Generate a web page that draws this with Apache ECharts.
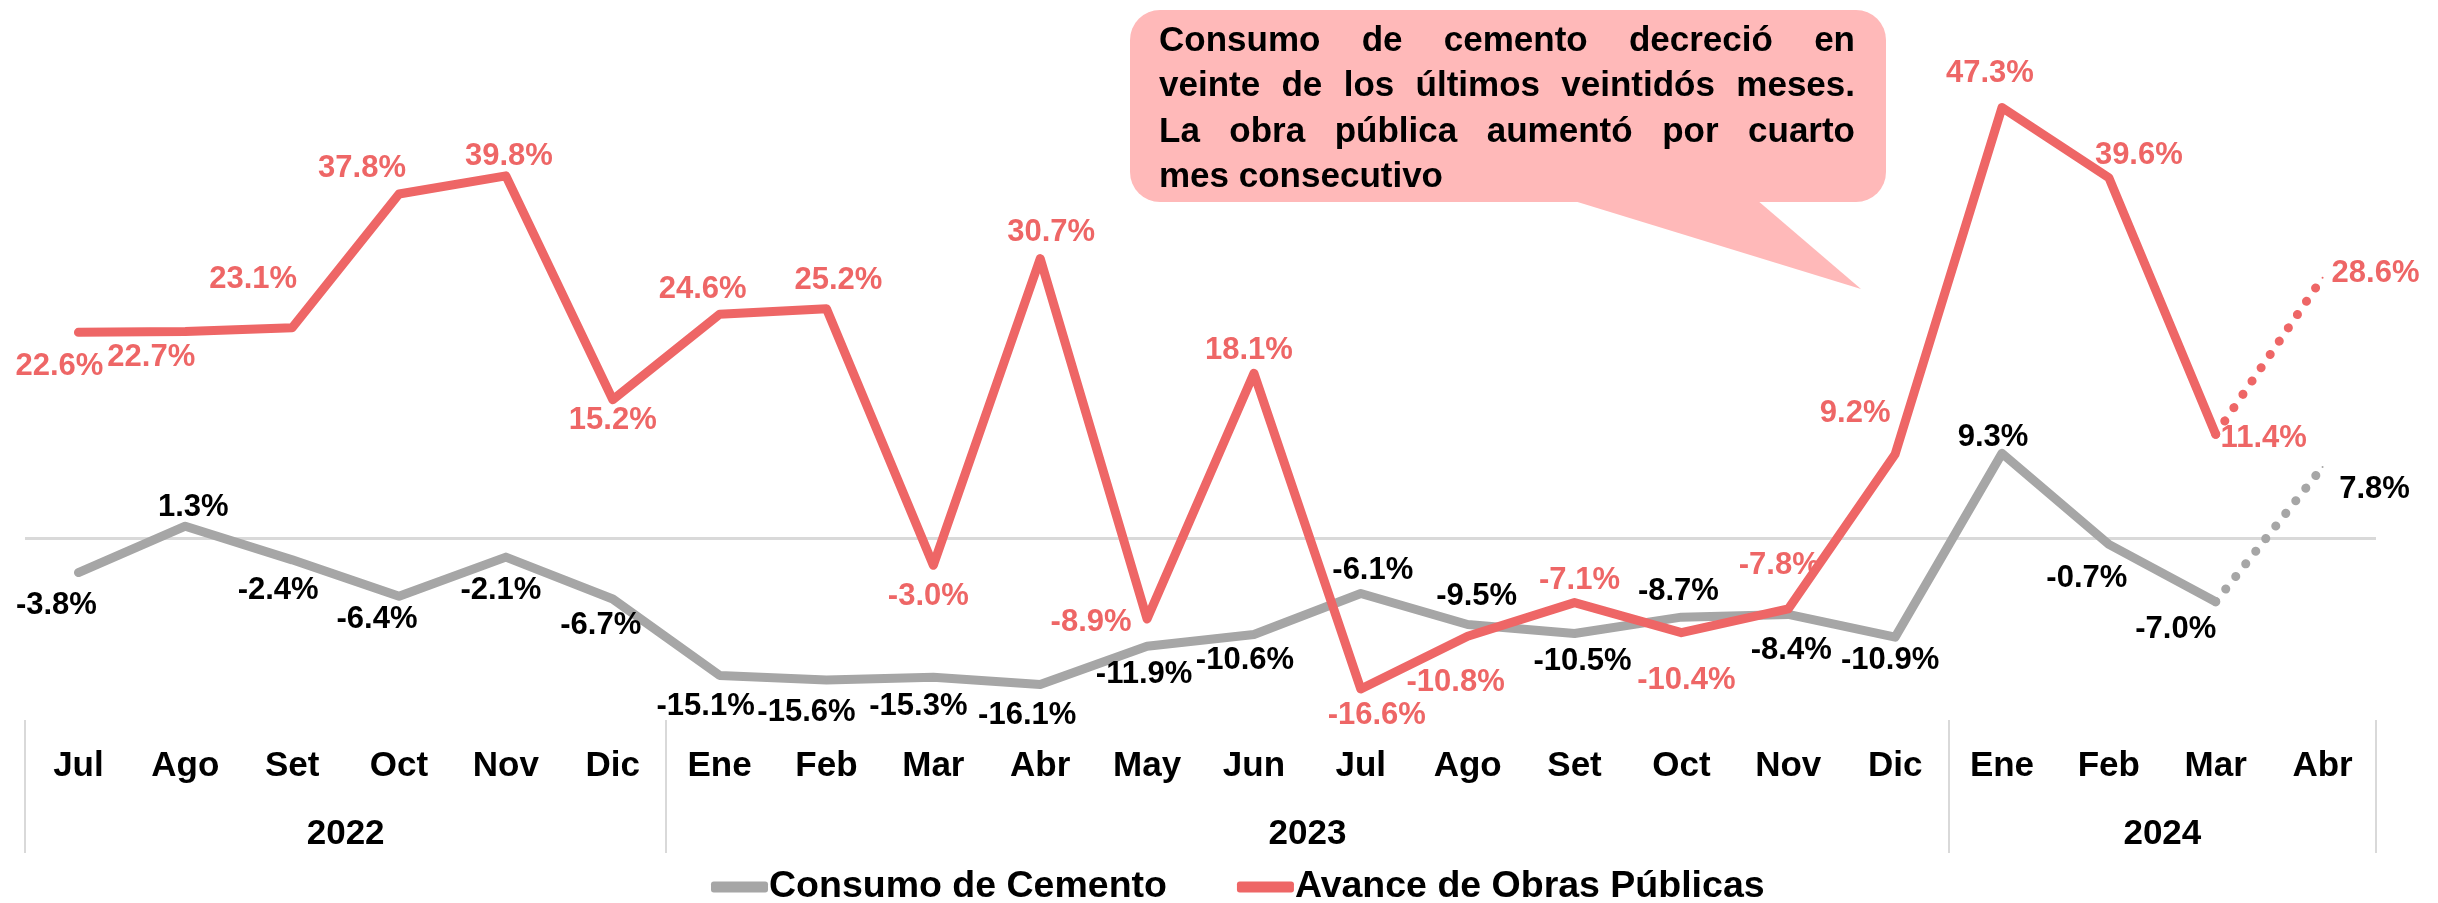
<!DOCTYPE html>
<html>
<head>
<meta charset="utf-8">
<script src="https://cdn.jsdelivr.net/npm/echarts@6/dist/echarts.min.js"></script>
<style>
html,body{margin:0;padding:0;background:#fff;}
#chart{width:2438px;height:903px;}
</style>
</head>
<body>
<div id="chart"></div>
<script>
// ---------- DATA ----------
const months = ['Jul','Ago','Set','Oct','Nov','Dic','Ene','Feb','Mar','Abr','May','Jun','Jul','Ago','Set','Oct','Nov','Dic','Ene','Feb','Mar','Abr'];
const years = ['2022','2023','2024'];
const yearSizes = [6, 12, 4];
const cemento = [-3.8, 1.3, -2.4, -6.4, -2.1, -6.7, -15.1, -15.6, -15.3, -16.1, -11.9, -10.6, -6.1, -9.5, -10.5, -8.7, -8.4, -10.9, 9.3, -0.7, -7.0, 7.8];
const obras = [22.6, 22.7, 23.1, 37.8, 39.8, 15.2, 24.6, 25.2, -3.0, 30.7, -8.9, 18.1, -16.6, -10.8, -7.1, -10.4, -7.8, 9.2, 47.3, 39.6, 11.4, 28.6];
const seriesNames = ['Consumo de Cemento', 'Avance de Obras Públicas'];
const calloutLines = ['Consumo de cemento decreció en', 'veinte de los últimos veintidós meses.', 'La obra pública aumentó por cuarto', 'mes consecutivo'];
const projectedFrom = 20; // last real month; the segment after it is drawn dotted

// ---------- LABEL PLACEMENT (offsets from point, px) ----------
const grayOffsets = [[-22,33],[8,-19],[-14,31],[-22,23],[-5,33],[-12,26],[-14,31],[-20,32],[-15,29],[-13,31],[-3,28],[-9,26],[12,-23],[9,-28],[8,28],[-3,-26],[3,36],[-5,23],[-9,-16],[-22,34],[-40,28],[52,22]];
const redOffsets = [[-19,34],[-34,26],[-39,-48],[-37,-26],[3,-19],[0,21],[-17,-25],[12,-28],[-5,31],[11,-26],[-56,3],[-5,-23],[16,26],[-12,46],[5,-22],[5,48],[-9,-44],[-40,-41],[-12,-34],[30,-22],[48,4],[53,-4]];

// ---------- STYLE ----------
const FONT = '"Liberation Sans", Arial, Helvetica, sans-serif';
const GRAY = '#A6A6A6';
const RED = '#EE6666';
const GRID_L = 25, GRID_R = 62;

const chart = echarts.init(document.getElementById('chart'), null, {renderer: 'canvas'});

function pts(values, offsets, color, from, to) {
  return values.map((v, i) => {
    if (i < from || i > to) return null;
    return {value: v, label: {offset: offsets[i], color: color}};
  });
}
function labelFmt(p) { return p.value.toFixed(1) + '%'; }

// year axis slots (label sits on the category left of each group's centre, shifted half a band)
const yearSlots = new Array(months.length).fill('');
let start = 0;
years.forEach((y, k) => {
  const idx = start + Math.floor((yearSizes[k] - 1) / 2);
  yearSlots[idx] = y;
  start += yearSizes[k];
});
const groupStarts = [];
start = 0;
yearSizes.forEach(s => { groupStarts.push(start); start += s; });

function makeSeries(name, values, offsets, color, labelColor, dotted, z) {
  const base = {
    name: name,
    type: 'line',
    xAxisIndex: 0, yAxisIndex: 0,
    symbol: 'circle', symbolSize: 2,
    showSymbol: true,
    itemStyle: {color: color},
    z: z,
    silent: true,
    animation: false,
    label: {
      show: true, position: 'inside', formatter: labelFmt,
      fontFamily: FONT, fontSize: 31, fontWeight: 'bold', color: labelColor
    },
    emphasis: {disabled: true}
  };
  if (!dotted) {
    return Object.assign(base, {
      data: pts(values, offsets, labelColor, 0, projectedFrom),
      lineStyle: {color: color, width: 9, cap: 'round', join: 'round'}
    });
  }
  const d = pts(values, offsets, labelColor, projectedFrom, values.length - 1);
  d[projectedFrom] = {value: values[projectedFrom], label: {show: false}};
  return Object.assign(base, {
    data: d,
    connectNulls: false,
    lineStyle: {color: color, width: 9, type: [0.1, 16], cap: 'round'}
  });
}

const grayMain = makeSeries(seriesNames[0], cemento, grayOffsets, GRAY, '#000000', false, 3);
grayMain.markLine = {
  silent: true, symbol: 'none', animation: false,
  label: {show: false},
  lineStyle: {color: '#D9D9D9', width: 3, type: 'solid'},
  emphasis: {disabled: true},
  data: [{yAxis: 0}],
  z: 1
};

const option = {
  backgroundColor: '#ffffff',
  animation: false,
  textStyle: {fontFamily: FONT},
  grid: [
    {left: GRID_L, right: GRID_R, top: 83, height: 637},
    {left: GRID_L, right: GRID_R, top: 720, height: 133}
  ],
  xAxis: [
    {
      type: 'category', gridIndex: 0, data: months, boundaryGap: true,
      axisLine: {show: false}, axisTick: {show: false}, splitLine: {show: false},
      axisLabel: {interval: 0, margin: 29, fontFamily: FONT, fontSize: 35, fontWeight: 'bold', color: '#000'}
    },
    {
      type: 'category', gridIndex: 0, data: yearSlots, boundaryGap: true, position: 'bottom',
      axisLine: {show: false}, axisTick: {show: false}, splitLine: {show: false},
      axisLabel: {
        interval: 0, margin: 97, color: '#000',
        formatter: v => v ? '{y|' + v + '}' : '',
        rich: {y: {fontFamily: FONT, fontSize: 35, fontWeight: 'bold', color: '#000', padding: [0, 0, 0, 107]}}
      }
    },
    {
      type: 'category', gridIndex: 1, data: months, boundaryGap: true,
      axisLine: {show: false}, axisTick: {show: false}, axisLabel: {show: false},
      splitLine: {show: true, interval: (i) => groupStarts.indexOf(i) >= 0, lineStyle: {color: '#D9D9D9', width: 2}}
    }
  ],
  yAxis: [
    {type: 'value', gridIndex: 0, min: -20, max: 50, interval: 10, show: false, splitLine: {show: false}},
    {type: 'value', gridIndex: 1, show: false, splitLine: {show: false}}
  ],
  legend: {
    left: 711, top: 868, padding: 0,
    icon: 'roundRect', itemWidth: 57, itemHeight: 11, itemGap: 70,
    textStyle: {fontFamily: FONT, fontSize: 37.5, fontWeight: 'bold', color: '#000', padding: [0, 0, 0, -4]},
    selectedMode: false,
    data: [
      {name: seriesNames[0], itemStyle: {color: GRAY}},
      {name: seriesNames[1], itemStyle: {color: RED}}
    ]
  },
  series: [
    grayMain,
    makeSeries(seriesNames[0], cemento, grayOffsets, GRAY, '#000000', true, 3),
    makeSeries(seriesNames[1], obras, redOffsets, RED, RED, false, 4),
    makeSeries(seriesNames[1], obras, redOffsets, RED, RED, true, 4)
  ],
  graphic: []
};

// ---------- CALLOUT (justified text) ----------
(function buildCallout() {
  const boxX = 1130, boxY = 10, boxW = 756, boxH = 192;
  const textX = 1159, textW = 696, firstLineY = 41, lineGap = 45.5;
  const fontSize = 35;
  const fontStr = 'bold ' + fontSize + 'px ' + FONT;
  const els = [
    {type: 'polygon', silent: true, z: 10, shape: {points: [[1571, boxY + boxH - 2], [1757, boxY + boxH - 2], [1861, 289]]}, style: {fill: '#FFB9B9'}},
    {type: 'rect', silent: true, z: 10, shape: {x: boxX, y: boxY, width: boxW, height: boxH, r: 30}, style: {fill: '#FFB9B9'}}
  ];
  const ctx = document.createElement('canvas').getContext('2d');
  ctx.font = fontStr;
  const spaceW = ctx.measureText(' ').width;
  calloutLines.forEach((line, li) => {
    const words = line.split(' ');
    const widths = words.map(w => ctx.measureText(w).width);
    const sum = widths.reduce((a, b) => a + b, 0);
    const isLast = li === calloutLines.length - 1;
    const gap = (isLast || words.length < 2) ? spaceW : (textW - sum) / (words.length - 1);
    let x = textX;
    const y = firstLineY + li * lineGap;
    words.forEach((w, wi) => {
      els.push({
        type: 'text', silent: true, z: 11,
        style: {text: w, x: x, y: y, font: fontStr, fill: '#000', textVerticalAlign: 'middle', verticalAlign: 'middle'}
      });
      x += widths[wi] + gap;
    });
  });
  option.graphic = els;
})();

chart.setOption(option);
</script>
</body>
</html>
